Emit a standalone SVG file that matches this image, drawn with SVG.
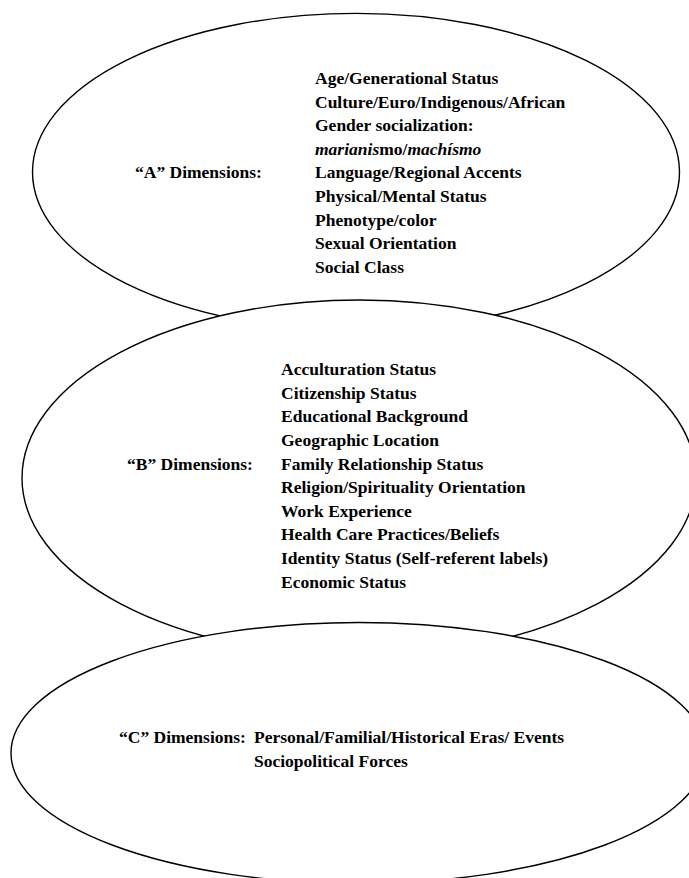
<svg xmlns="http://www.w3.org/2000/svg" width="689" height="878" viewBox="0 0 689 878">
<style>
.ell{fill:#fff;stroke:#000;stroke-width:1.4}
text{font-family:"Liberation Serif","Times New Roman",serif;font-weight:bold;font-size:17.5px;fill:#000}
.it{font-style:italic}
</style>
<rect width="689" height="878" fill="#fff"/>
<g id="nodeA">
<ellipse class="ell" cx="356" cy="172" rx="323.5" ry="158.6"/>
<text x="135" y="178.4">“A” Dimensions:</text>
<text x="315" y="84">Age/Generational Status</text>
<text x="315" y="107.6">Culture/Euro/Indigenous/African</text>
<text x="315" y="131.2">Gender socialization:</text>
<text x="315" y="154.8"><tspan class="it">marianis</tspan>mo/<tspan class="it">machísmo</tspan></text>
<text x="315" y="178.4">Language/Regional Accents</text>
<text x="315" y="202">Physical/Mental Status</text>
<text x="315" y="225.6">Phenotype/color</text>
<text x="315" y="249.2">Sexual Orientation</text>
<text x="315" y="272.8">Social Class</text>
</g>
<g id="nodeB">
<ellipse class="ell" cx="359" cy="478" rx="337" ry="178"/>
<text x="127" y="469.5">“B” Dimensions:</text>
<text x="281" y="375">Acculturation Status</text>
<text x="281" y="398.6">Citizenship Status</text>
<text x="281" y="422.2">Educational Background</text>
<text x="281" y="445.8">Geographic Location</text>
<text x="281" y="469.5">Family Relationship Status</text>
<text x="281" y="493.1">Religion/Spirituality Orientation</text>
<text x="281" y="516.7">Work Experience</text>
<text x="281" y="540.3">Health Care Practices/Beliefs</text>
<text x="281" y="564">Identity Status (Self-referent labels)</text>
<text x="281" y="587.6">Economic Status</text>
</g>
<g id="nodeC">
<ellipse class="ell" cx="358.5" cy="753" rx="347.5" ry="130.5"/>
<text x="119" y="742.5">“C” Dimensions:</text>
<text x="254" y="742.5">Personal/Familial/Historical Eras/ Events</text>
<text x="254" y="766.5">Sociopolitical Forces</text>
</g>
<g id="connectors"/>
</svg>
